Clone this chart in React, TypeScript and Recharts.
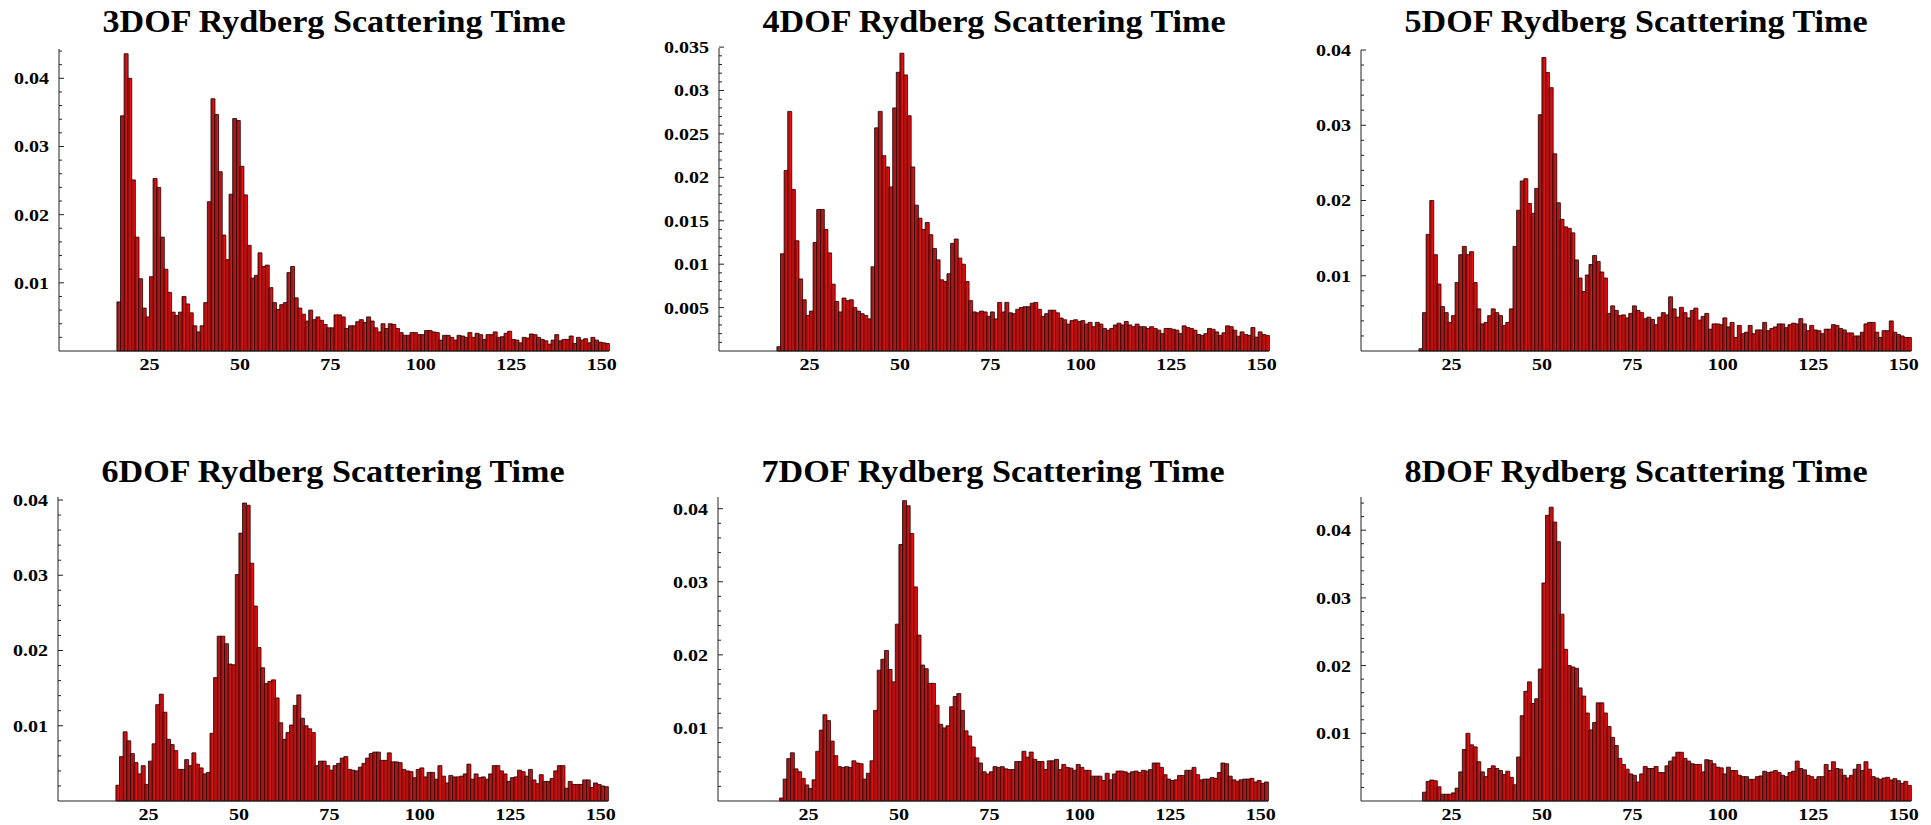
import { BarChart, Bar, XAxis, YAxis } from 'recharts';

// histogram bins are 1 unit wide; each array starts at its panel's first bin
const titles = [
  '3DOF Rydberg Scattering Time',
  '4DOF Rydberg Scattering Time',
  '5DOF Rydberg Scattering Time',
  '6DOF Rydberg Scattering Time',
  '7DOF Rydberg Scattering Time',
  '8DOF Rydberg Scattering Time',
];
const firstBins = [16, 16, 16, 16, 17, 17];
const xTicks = [25, 50, 75, 100, 125, 150];

const yMajor3 = [0.01, 0.02, 0.03, 0.04];
const yMajor4 = [0.005, 0.01, 0.015, 0.02, 0.025, 0.03, 0.035];
const yMinorSteps = [0.002, 0.001, 0.002, 0.002, 0.002, 0.002];
const yTops = [0.0443, 0.0349, 0.04, 0.0404, 0.0416, 0.0449];

const dof3 = [
  0.0072, 0.0345, 0.0436, 0.0400, 0.0251, 0.0167, 0.0106, 0.0063, 0.0050, 0.0109,
  0.0253, 0.0240, 0.0167, 0.0120, 0.0086, 0.0057, 0.0052, 0.0057, 0.0080, 0.0069,
  0.0056, 0.0037, 0.0028, 0.0037, 0.0071, 0.0219, 0.0370, 0.0347, 0.0263, 0.0170,
  0.0134, 0.0230, 0.0341, 0.0338, 0.0271, 0.0229, 0.0155, 0.0107, 0.0111, 0.0144,
  0.0124, 0.0126, 0.0093, 0.0071, 0.0061, 0.0068, 0.0071, 0.0115, 0.0124, 0.0078,
  0.0063, 0.0054, 0.0044, 0.0060, 0.0046, 0.0050, 0.0045, 0.0039, 0.0034, 0.0034,
  0.0053, 0.0053, 0.0050, 0.0033, 0.0037, 0.0037,
  0.0043, 0.0046, 0.0042, 0.0050, 0.0044, 0.0034, 0.0028, 0.0040, 0.0033, 0.0040,
  0.0039, 0.0033, 0.0027, 0.0023, 0.0023, 0.0027, 0.0027, 0.0024, 0.0024, 0.0030,
  0.0030, 0.0028, 0.0027, 0.0016, 0.0023, 0.0023, 0.0020, 0.0016, 0.0023, 0.0022,
  0.0020, 0.0027, 0.0020, 0.0026, 0.0024, 0.0017, 0.0024, 0.0024, 0.0028, 0.0020,
  0.0021, 0.0026, 0.0029, 0.0017, 0.0016, 0.0012, 0.0020, 0.0019, 0.0025, 0.0024,
  0.0020, 0.0017, 0.0015, 0.0010, 0.0016, 0.0024, 0.0015, 0.0017, 0.0017, 0.0022,
  0.0011, 0.0020, 0.0016, 0.0018, 0.0012, 0.0020, 0.0016, 0.0013, 0.0012, 0.0011,
];

const dof4 = [
  0.0005, 0.0112, 0.0208, 0.0276, 0.0186, 0.0127, 0.0083, 0.0059, 0.0041, 0.0046,
  0.0125, 0.0163, 0.0163, 0.0140, 0.0113, 0.0077, 0.0057, 0.0045, 0.0061, 0.0058,
  0.0059, 0.0050, 0.0046, 0.0043, 0.0041, 0.0037, 0.0097, 0.0257, 0.0276, 0.0225,
  0.0212, 0.0189, 0.0280, 0.0321, 0.0343, 0.0318, 0.0271, 0.0212, 0.0168, 0.0153,
  0.0140, 0.0148, 0.0134, 0.0118, 0.0105, 0.0082, 0.0080, 0.0089, 0.0124, 0.0129,
  0.0107, 0.0100, 0.0080, 0.0058, 0.0045, 0.0044, 0.0046, 0.0045, 0.0040, 0.0045,
  0.0037, 0.0056, 0.0045, 0.0056, 0.0044, 0.0043, 0.0048, 0.0050, 0.0051, 0.0051,
  0.0055, 0.0056, 0.0048, 0.0040, 0.0043, 0.0047, 0.0047, 0.0044, 0.0038, 0.0036,
  0.0031, 0.0035, 0.0036, 0.0034, 0.0035, 0.0031, 0.0033, 0.0028, 0.0033, 0.0031,
  0.0026, 0.0024, 0.0026, 0.0030, 0.0032, 0.0030, 0.0034, 0.0030, 0.0028, 0.0031,
  0.0028, 0.0028, 0.0026, 0.0028, 0.0026, 0.0024, 0.0020, 0.0026, 0.0026, 0.0025,
  0.0024, 0.0020, 0.0029, 0.0027, 0.0026, 0.0024, 0.0019, 0.0018, 0.0020, 0.0026,
  0.0025, 0.0022, 0.0018, 0.0021, 0.0029, 0.0028, 0.0024, 0.0017, 0.0022, 0.0019,
  0.0018, 0.0027, 0.0016, 0.0022, 0.0019, 0.0018,
];

const dof5 = [
  0.0003, 0.0051, 0.0155, 0.0200, 0.0128, 0.0089, 0.0059, 0.0051, 0.0038, 0.0047,
  0.0091, 0.0128, 0.0139, 0.0128, 0.0132, 0.0091, 0.0056, 0.0036, 0.0038, 0.0047,
  0.0056, 0.0051, 0.0047, 0.0034, 0.0038, 0.0056, 0.0139, 0.0187, 0.0226, 0.0229,
  0.0196, 0.0183, 0.0216, 0.0314, 0.0390, 0.0370, 0.0350, 0.0262, 0.0197, 0.0175,
  0.0165, 0.0163, 0.0157, 0.0121, 0.0097, 0.0079, 0.0101, 0.0115, 0.0127, 0.0119,
  0.0105, 0.0097, 0.0050, 0.0060, 0.0054, 0.0047, 0.0048, 0.0044, 0.0050, 0.0060,
  0.0054, 0.0051, 0.0043, 0.0045, 0.0042, 0.0035, 0.0045, 0.0051, 0.0048, 0.0072,
  0.0056, 0.0045, 0.0058, 0.0051, 0.0044, 0.0054, 0.0057, 0.0041, 0.0046, 0.0050,
  0.0029, 0.0036, 0.0036, 0.0035, 0.0044, 0.0032, 0.0038, 0.0018, 0.0034, 0.0023,
  0.0025, 0.0034, 0.0023, 0.0028, 0.0028, 0.0038, 0.0027, 0.0030, 0.0032, 0.0036,
  0.0036, 0.0031, 0.0035, 0.0037, 0.0036, 0.0043, 0.0036, 0.0027, 0.0034, 0.0028,
  0.0027, 0.0023, 0.0029, 0.0029, 0.0035, 0.0034, 0.0030, 0.0028, 0.0024, 0.0024,
  0.0020, 0.0020, 0.0025, 0.0036, 0.0038, 0.0038, 0.0025, 0.0018, 0.0027, 0.0027,
  0.0040, 0.0025, 0.0022, 0.0020, 0.0018, 0.0018,
];

const dof6 = [
  0.0021, 0.0059, 0.0092, 0.0080, 0.0063, 0.0051, 0.0036, 0.0047, 0.0022, 0.0053,
  0.0076, 0.0128, 0.0142, 0.0118, 0.0082, 0.0075, 0.0067, 0.0042, 0.0042, 0.0055,
  0.0047, 0.0064, 0.0049, 0.0044, 0.0036, 0.0038, 0.0090, 0.0164, 0.0219, 0.0219,
  0.0209, 0.0182, 0.0181, 0.0301, 0.0356, 0.0396, 0.0393, 0.0316, 0.0259, 0.0204,
  0.0177, 0.0156, 0.0159, 0.0161, 0.0137, 0.0104, 0.0082, 0.0091, 0.0101, 0.0127,
  0.0141, 0.0110, 0.0100, 0.0096, 0.0091, 0.0047, 0.0053, 0.0053, 0.0047, 0.0041,
  0.0047, 0.0050, 0.0057, 0.0059, 0.0042, 0.0041, 0.0040, 0.0045, 0.0050, 0.0057,
  0.0063, 0.0065, 0.0065, 0.0054, 0.0054, 0.0064, 0.0052, 0.0052, 0.0051, 0.0042,
  0.0040, 0.0039, 0.0031, 0.0042, 0.0044, 0.0032, 0.0038, 0.0038, 0.0029, 0.0047,
  0.0033, 0.0024, 0.0034, 0.0032, 0.0032, 0.0033, 0.0036, 0.0049, 0.0029, 0.0036,
  0.0031, 0.0032, 0.0029, 0.0036, 0.0047, 0.0047, 0.0040, 0.0036, 0.0026, 0.0031,
  0.0032, 0.0041, 0.0039, 0.0033, 0.0042, 0.0028, 0.0023, 0.0035, 0.0026, 0.0026,
  0.0030, 0.0040, 0.0047, 0.0047, 0.0017, 0.0026, 0.0022, 0.0022, 0.0022, 0.0028,
  0.0028, 0.0018, 0.0024, 0.0022, 0.0020, 0.0019,
];

const dof7 = [
  0.0004, 0.0030, 0.0058, 0.0066, 0.0044, 0.0040, 0.0031, 0.0022, 0.0017, 0.0029,
  0.0068, 0.0097, 0.0118, 0.0110, 0.0082, 0.0062, 0.0047, 0.0046, 0.0047, 0.0046,
  0.0055, 0.0052, 0.0051, 0.0030, 0.0038, 0.0055, 0.0124, 0.0179, 0.0194, 0.0206,
  0.0180, 0.0163, 0.0242, 0.0351, 0.0411, 0.0404, 0.0366, 0.0293, 0.0227, 0.0186,
  0.0181, 0.0161, 0.0161, 0.0131, 0.0105, 0.0100, 0.0103, 0.0129, 0.0143, 0.0147,
  0.0124, 0.0096, 0.0089, 0.0074, 0.0059, 0.0052, 0.0040, 0.0037, 0.0040, 0.0047,
  0.0046, 0.0047, 0.0044, 0.0043, 0.0043, 0.0054, 0.0054, 0.0068, 0.0060, 0.0067,
  0.0057, 0.0054, 0.0054, 0.0043, 0.0055, 0.0055, 0.0057, 0.0043, 0.0050, 0.0046,
  0.0045, 0.0042, 0.0050, 0.0046, 0.0042, 0.0042, 0.0034, 0.0034, 0.0034, 0.0028,
  0.0038, 0.0029, 0.0037, 0.0041, 0.0041, 0.0040, 0.0038, 0.0040, 0.0041, 0.0039,
  0.0042, 0.0041, 0.0043, 0.0052, 0.0052, 0.0046, 0.0036, 0.0030, 0.0028, 0.0029,
  0.0035, 0.0035, 0.0042, 0.0042, 0.0046, 0.0036, 0.0029, 0.0030, 0.0030, 0.0032,
  0.0031, 0.0039, 0.0052, 0.0051, 0.0034, 0.0029, 0.0027, 0.0029, 0.0030, 0.0030,
  0.0031, 0.0026, 0.0028, 0.0024, 0.0026,
];

const dof8 = [
  0.0013, 0.0029, 0.0031, 0.0030, 0.0021, 0.0010, 0.0010, 0.0010, 0.0012, 0.0019,
  0.0043, 0.0076, 0.0100, 0.0083, 0.0080, 0.0058, 0.0043, 0.0036, 0.0048, 0.0052,
  0.0048, 0.0045, 0.0039, 0.0044, 0.0035, 0.0024, 0.0065, 0.0126, 0.0162, 0.0176,
  0.0144, 0.0151, 0.0195, 0.0322, 0.0422, 0.0434, 0.0412, 0.0383, 0.0276, 0.0224,
  0.0200, 0.0198, 0.0196, 0.0167, 0.0155, 0.0130, 0.0105, 0.0116, 0.0145, 0.0145,
  0.0130, 0.0110, 0.0094, 0.0082, 0.0063, 0.0054, 0.0047, 0.0040, 0.0038, 0.0028,
  0.0040, 0.0051, 0.0048, 0.0048, 0.0051, 0.0042, 0.0042, 0.0052, 0.0059, 0.0065,
  0.0072, 0.0072, 0.0063, 0.0059, 0.0055, 0.0054, 0.0054, 0.0043, 0.0061, 0.0060,
  0.0055, 0.0050, 0.0049, 0.0040, 0.0050, 0.0045, 0.0045, 0.0038, 0.0036, 0.0036,
  0.0032, 0.0032, 0.0036, 0.0037, 0.0044, 0.0042, 0.0043, 0.0045, 0.0042, 0.0038,
  0.0036, 0.0042, 0.0044, 0.0059, 0.0048, 0.0046, 0.0038, 0.0036, 0.0032, 0.0036,
  0.0036, 0.0054, 0.0045, 0.0058, 0.0048, 0.0047, 0.0038, 0.0034, 0.0038, 0.0047,
  0.0054, 0.0045, 0.0058, 0.0047, 0.0036, 0.0034, 0.0032, 0.0034, 0.0035, 0.0031,
  0.0033, 0.0030, 0.0026, 0.0029, 0.0023,
];

const series = [dof3, dof4, dof5, dof6, dof7, dof8];
const yMajors = [yMajor3, yMajor4, yMajor3, yMajor3, yMajor3, yMajor3];

// page layout (px): y-axis line position, top of the axis and the baseline
const X_MAX = 152;
const PLOT_W = 550;
const AXIS_W = 90;
const TOP_PAD = 12;
const X_AXIS_H = 40;
const axisLeft = [59, 719, 1361, 58, 718, 1361];
const plotTop = [49, 48, 50, 497, 497, 497];
const plotBase = [351, 351, 351, 801, 801, 801];
const titleBase = [32, 32, 32, 482, 482, 482];

const SERIF = '"Liberation Serif", "Times New Roman", serif';
// the lettering in these plots is wider than plain Times, so it is stretched sideways
const TICK_STRETCH = 1.18;
const TITLE_STRETCH = 1.1;

function minorTicks(top: number, step: number) {
  const out: number[] = [];
  for (let k = 1; k * step <= top + 1e-9; k++) out.push(Number((k * step).toFixed(4)));
  return out;
}

function renderYTick(props: any, majors: number[]) {
  const { x, y, payload } = props;
  const v = payload.value as number;
  const isMajor = majors.some((m) => Math.abs(m - v) < 1e-7);
  return (
    <g>
      <line x1={x} x2={x + (isMajor ? 5 : 3)} y1={y} y2={y} stroke="#222" strokeWidth={1} />
      {isMajor && (
        <g transform={`translate(${x - 10},${y}) scale(${TICK_STRETCH},1)`}>
          <text
            x={0}
            y={0}
            textAnchor="end"
            dominantBaseline="central"
            fontFamily={SERIF}
            fontWeight={700}
            fontSize={17}
            fill="#000"
          >
            {String(v)}
          </text>
        </g>
      )}
    </g>
  );
}

function renderXTick(props: any) {
  const { x, y, payload } = props;
  return (
    <g transform={`translate(${x},${y + 13}) scale(${TICK_STRETCH},1)`}>
      <text
        x={0}
        y={0}
        textAnchor="middle"
        dominantBaseline="central"
        fontFamily={SERIF}
        fontWeight={700}
        fontSize={17}
        fill="#000"
      >
        {String(payload.value)}
      </text>
    </g>
  );
}

type PanelProps = { idx: number };

function Panel({ idx }: PanelProps) {
  const values = series[idx];
  const data = values.map((p, i) => ({ t: firstBins[idx] + i + 0.5, p }));
  const majors = yMajors[idx];
  const yTicks = Array.from(
    new Set([...minorTicks(yTops[idx], yMinorSteps[idx]), ...majors])
  ).sort((a, b) => a - b);
  const plotH = plotBase[idx] - plotTop[idx];

  return (
    <div
      style={{
        position: 'absolute',
        left: axisLeft[idx] - AXIS_W,
        top: plotTop[idx] - TOP_PAD,
      }}
    >
      <BarChart
        width={AXIS_W + PLOT_W + 10}
        height={TOP_PAD + plotH + X_AXIS_H}
        data={data}
        margin={{ top: TOP_PAD, right: 10, bottom: 0, left: 0 }}
        barCategoryGap={0}
        barGap={0}
      >
        <XAxis
          dataKey="t"
          type="number"
          domain={[0, X_MAX]}
          ticks={xTicks}
          interval={0}
          height={X_AXIS_H}
          axisLine={{ stroke: '#222', strokeWidth: 1 }}
          tickLine={false}
          tickSize={0}
          tickMargin={0}
          tick={renderXTick}
        />
        <YAxis
          type="number"
          domain={[0, yTops[idx]]}
          ticks={yTicks}
          interval={0}
          width={AXIS_W}
          axisLine={{ stroke: '#222', strokeWidth: 1 }}
          tickLine={false}
          tickSize={0}
          tickMargin={0}
          tick={(p: any) => renderYTick(p, majors)}
        />
        <Bar
          dataKey="p"
          fill="url(#barShade)"
          stroke="#1a0000"
          strokeWidth={0.8}
          isAnimationActive={false}
        />
      </BarChart>
    </div>
  );
}

export default function App() {
  return (
    <div
      style={{
        position: 'absolute',
        left: 0,
        top: 0,
        width: 1931,
        height: 825,
        background: '#fff',
        overflow: 'hidden',
      }}
    >
      <svg width={0} height={0} style={{ position: 'absolute' }}>
        <defs>
          <linearGradient id="barShade" x1="0" y1="0" x2="1" y2="0">
            <stop offset="0" stopColor="#9a1a1a" />
            <stop offset="0.55" stopColor="#a81616" />
            <stop offset="0.62" stopColor="#f20c0c" />
            <stop offset="1" stopColor="#ff0000" />
          </linearGradient>
        </defs>
      </svg>
      {series.map((_, i) => (
        <Panel key={titles[i]} idx={i} />
      ))}
      <svg width={1931} height={825} style={{ position: 'absolute', left: 0, top: 0, pointerEvents: 'none' }}>
        {titles.map((t, i) => (
          <g
            key={t}
            transform={`translate(${axisLeft[i] + PLOT_W / 2},${titleBase[i]}) scale(${TITLE_STRETCH},1)`}
          >
            <text
              x={0}
              y={0}
              textAnchor="middle"
              fontFamily={SERIF}
              fontWeight={700}
              fontSize={31}
              fill="#000"
            >
              {t}
            </text>
          </g>
        ))}
      </svg>
    </div>
  );
}
